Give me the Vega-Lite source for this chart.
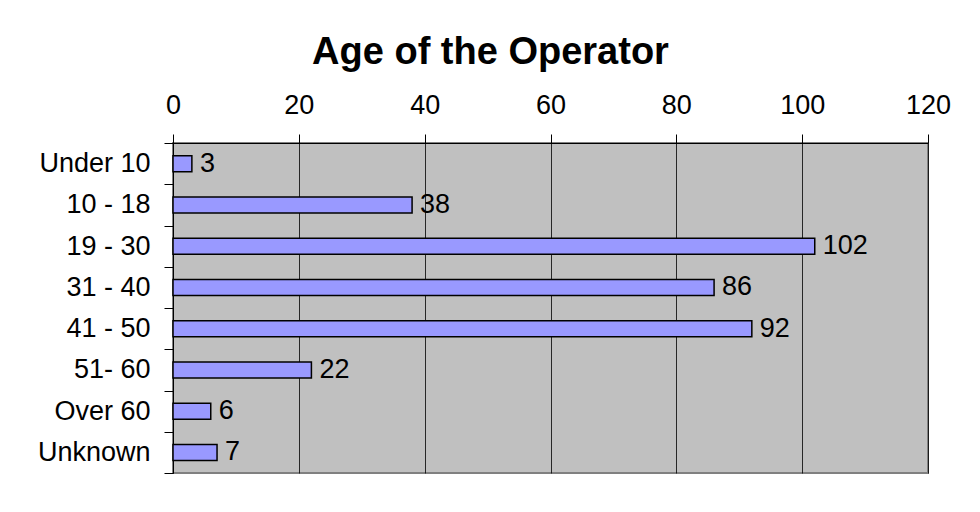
{
  "$schema": "https://vega.github.io/schema/vega-lite/v6.json",
  "autosize": "none",
  "width": 755,
  "height": 330,
  "padding": {"left": 173, "top": 143, "right": 52, "bottom": 39},
  "background": "white",
  "title": {
    "text": "Age of the Operator",
    "font": "Liberation Sans",
    "fontSize": 38,
    "fontWeight": "bold",
    "color": "black",
    "anchor": "middle",
    "dx": -60,
    "offset": 19
  },
  "data": {
    "values": [
      {"age": "Under 10", "count": 3},
      {"age": "10 - 18", "count": 38},
      {"age": "19 - 30", "count": 102},
      {"age": "31 - 40", "count": 86},
      {"age": "41 - 50", "count": 92},
      {"age": "51- 60", "count": 22},
      {"age": "Over 60", "count": 6},
      {"age": "Unknown", "count": 7}
    ]
  },
  "encoding": {
    "y": {
      "field": "age",
      "type": "nominal",
      "sort": null,
      "scale": {"paddingInner": 0, "paddingOuter": 0},
      "axis": {
        "title": null,
        "tickBand": "extent",
        "tickSize": 9,
        "tickColor": "black",
        "domainColor": "black",
        "labelFont": "Liberation Sans",
        "labelFontSize": 27,
        "labelColor": "black",
        "labelPadding": 14,
        "grid": false
      }
    },
    "x": {
      "field": "count",
      "type": "quantitative",
      "scale": {"domain": [0, 120], "nice": false},
      "axis": {
        "orient": "top",
        "title": null,
        "values": [0, 20, 40, 60, 80, 100, 120],
        "tickSize": 9,
        "tickColor": "black",
        "domainColor": "black",
        "labelFont": "Liberation Sans",
        "labelFontSize": 27,
        "labelColor": "black",
        "labelPadding": 15,
        "labelFlush": false,
        "grid": true,
        "gridColor": "#000000",
        "gridOpacity": 0.8
      }
    }
  },
  "layer": [
    {
      "mark": {"type": "bar", "size": 16, "fill": "#9999FF", "stroke": "black", "strokeWidth": 1.5}
    },
    {
      "mark": {"type": "text", "align": "left", "baseline": "middle", "dx": 8, "font": "Liberation Sans", "fontSize": 27, "color": "black"},
      "encoding": {"text": {"field": "count", "type": "quantitative"}}
    }
  ],
  "config": {
    "view": {"fill": "#C0C0C0", "stroke": "#808080", "strokeWidth": 2}
  }
}
